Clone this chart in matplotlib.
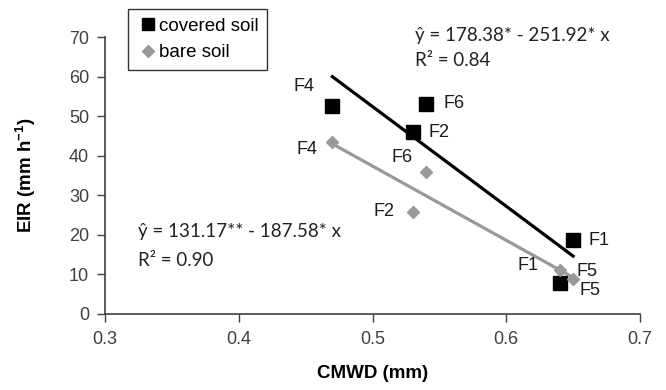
import matplotlib
matplotlib.use("Agg")
import matplotlib.pyplot as plt
import numpy as np

# covered soil (black squares)
covered_x = [0.47, 0.54, 0.53, 0.65, 0.64]
covered_y = [52.6, 53.1, 46.0, 18.7, 7.8]
covered_lbl = ["F4", "F6", "F2", "F1", "F5"]

# bare soil (grey diamonds)
bare_x = [0.47, 0.54, 0.53, 0.64, 0.65]
bare_y = [43.5, 35.9, 25.8, 11.1, 8.8]
bare_lbl = ["F4", "F6", "F2", "F1", "F5"]

# regression coefficients (intercept, slope) and fitted range
covered_fit = (178.38, -251.92)
bare_fit = (131.17, -187.58)
fit_range = [0.47, 0.65]

covered_eq = ["ŷ = 178.38* - 251.92* x", "R² = 0.84"]
bare_eq = ["ŷ = 131.17** - 187.58* x", "R² = 0.90"]

xticks = [0.3, 0.4, 0.5, 0.6, 0.7]
yticks = [0, 10, 20, 30, 40, 50, 60, 70]

plt.rcParams["font.family"] = ["Liberation Sans", "DejaVu Sans"]
plt.rcParams["mathtext.fontset"] = "custom"
plt.rcParams["mathtext.rm"] = "Liberation Sans"
plt.rcParams["mathtext.bf"] = "Liberation Sans:bold"

fig = plt.figure(figsize=(6.66, 3.9), dpi=100)
ax = fig.add_axes([105 / 666, 1 - 314 / 390, (640 - 105) / 666, (314 - 37) / 390])

grey = "#999999"
fx = np.array(fit_range)
ax.plot(fx, covered_fit[0] + covered_fit[1] * fx, color="black", lw=2.3, zorder=2)
ax.plot(fx, bare_fit[0] + bare_fit[1] * fx, color=grey, lw=2.3, zorder=2)

ax.plot(covered_x, covered_y, "s", color="black", ms=9.5, ls="none",
        label="covered soil", zorder=3)
ax.plot(bare_x, bare_y, "D", color=grey, ms=6.5, ls="none",
        label="bare soil", zorder=3)

# label offsets in pixels
covered_off = [(-28, 19), (28, 0), (26, -1), (26, 0), (30, -7)]
bare_off = [(-25, -8), (-24, 14), (-29, 0), (-32, 5), (14, 8)]
for x, y, t, o in zip(covered_x, covered_y, covered_lbl, covered_off):
    ax.annotate(t, (x, y), xytext=o, textcoords="offset pixels",
                ha="center", va="center", fontsize=13, color="#1a1a1a")
for x, y, t, o in zip(bare_x, bare_y, bare_lbl, bare_off):
    ax.annotate(t, (x, y), xytext=o, textcoords="offset pixels",
                ha="center", va="center", fontsize=13, color="#1a1a1a")

eq_font = ["Lato", "DejaVu Sans"]
for line, ypx in zip(covered_eq, [35, 61]):
    fig.text(415 / 666, 1 - ypx / 390, line, family=eq_font, fontsize=13.5,
             va="center", ha="left", color="#222222")
for line, ypx in zip(bare_eq, [232, 260]):
    fig.text(138 / 666, 1 - ypx / 390, line, family=eq_font, fontsize=13.5,
             va="center", ha="left", color="#222222")

ax.set_xlim(0.3, 0.7)
ax.set_ylim(0, 70)
ax.set_xticks(xticks)
ax.set_yticks(yticks)
ax.set_xticklabels([f"{v:.1f}" for v in xticks])
ax.tick_params(axis="both", direction="out", length=5.5, width=1,
               labelsize=13, labelcolor="#404040", color="#404040")
ax.tick_params(axis="x", pad=7)
ax.tick_params(axis="y", pad=6)
for s in ["top", "right"]:
    ax.spines[s].set_visible(False)
for s in ["left", "bottom"]:
    ax.spines[s].set_color("#404040")
    ax.spines[s].set_linewidth(1.2)

ax.set_xlabel("CMWD (mm)", fontsize=13.5, fontweight="bold", labelpad=12)
ax.set_ylabel(r"EIR (mm h$^{\mathbf{-1}}$)", fontsize=13.5, fontweight="bold",
              labelpad=22)

leg = ax.legend(loc="upper left", bbox_to_anchor=(128 / 666, 1 - 9 / 390),
                bbox_transform=fig.transFigure, fontsize=13.5, frameon=True,
                fancybox=False, edgecolor="black", handlelength=1.2,
                handletextpad=0.0, borderpad=0.45, labelspacing=0.5,
                borderaxespad=0, markerscale=0.9)
leg.get_frame().set_linewidth(1.0)

fig.savefig("out.png", dpi=100)
